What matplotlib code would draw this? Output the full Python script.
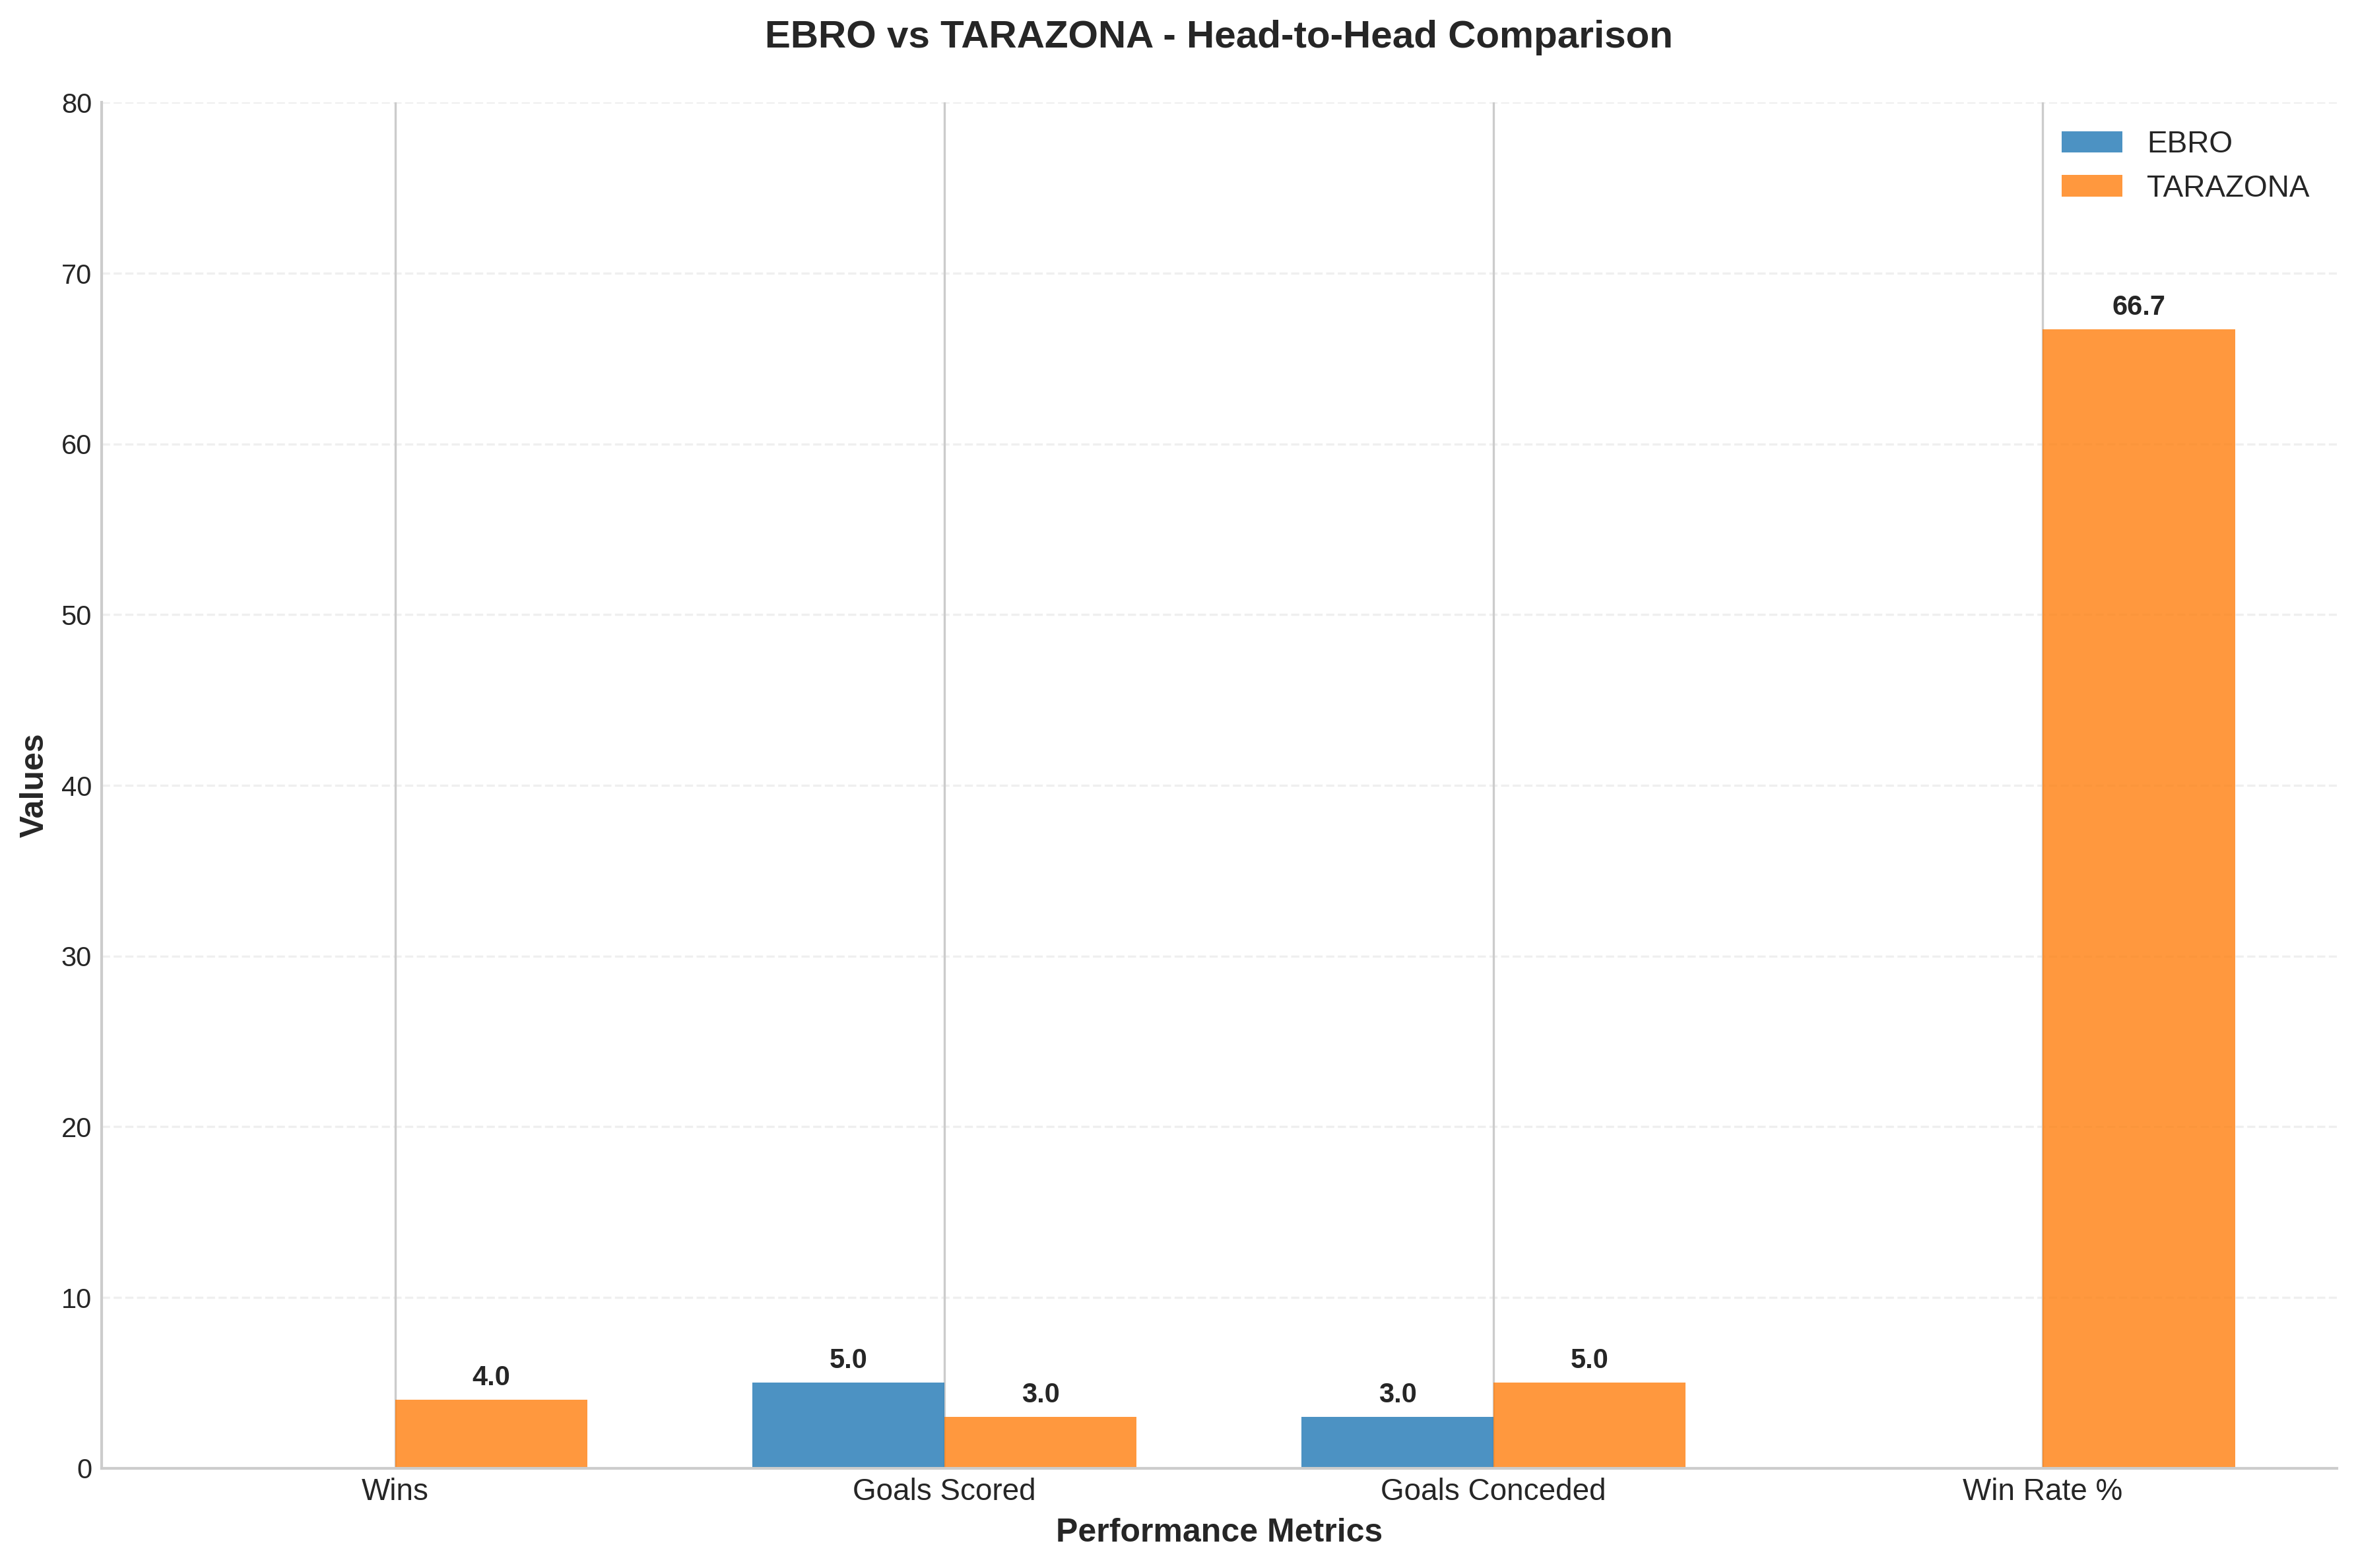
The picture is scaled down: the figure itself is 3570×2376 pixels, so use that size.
import numpy as np
import matplotlib
matplotlib.use("Agg")
import matplotlib.pyplot as plt

plt.style.use('seaborn-v0_8-whitegrid')
plt.rcParams['font.family'] = ['Liberation Sans', 'DejaVu Sans']

# Data
metrics = ["Wins", "Goals Scored", "Goals Conceded", "Win Rate %"]
ebro = [0, 5, 3, 0]
tarazona = [4, 3, 5, 66.7]

x = np.arange(len(metrics))
width = 0.35

fig, ax = plt.subplots(figsize=(12, 8))

bars1 = ax.bar(x - width/2, ebro, width, label='EBRO', color='#1f77b4', alpha=0.8)
bars2 = ax.bar(x + width/2, tarazona, width, label='TARAZONA', color='#ff7f0e', alpha=0.8)

# Value labels (only for non-zero bars)
for bars in (bars1, bars2):
    for b in bars:
        h = b.get_height()
        if h > 0:
            ax.text(b.get_x() + b.get_width()/2, h + 0.5, f'{h:.1f}',
                    ha='center', va='bottom', fontsize=10, fontweight='bold')

ax.set_xlabel('Performance Metrics', fontsize=12, fontweight='bold')
ax.set_ylabel('Values', fontsize=12, fontweight='bold')
ax.set_title('EBRO vs TARAZONA - Head-to-Head Comparison', fontsize=14,
             fontweight='bold', pad=20)
ax.set_xticks(x)
ax.set_xticklabels(metrics, fontsize=11)
ax.tick_params(axis='y', labelsize=10)
ax.set_ylim(0, 80)
ax.legend(fontsize=11, loc='upper right')
ax.grid(axis='y', linestyle='--', alpha=0.3)
ax.spines['top'].set_visible(False)
ax.spines['right'].set_visible(False)

plt.tight_layout()
plt.savefig('out.png', dpi=300, bbox_inches='tight')
